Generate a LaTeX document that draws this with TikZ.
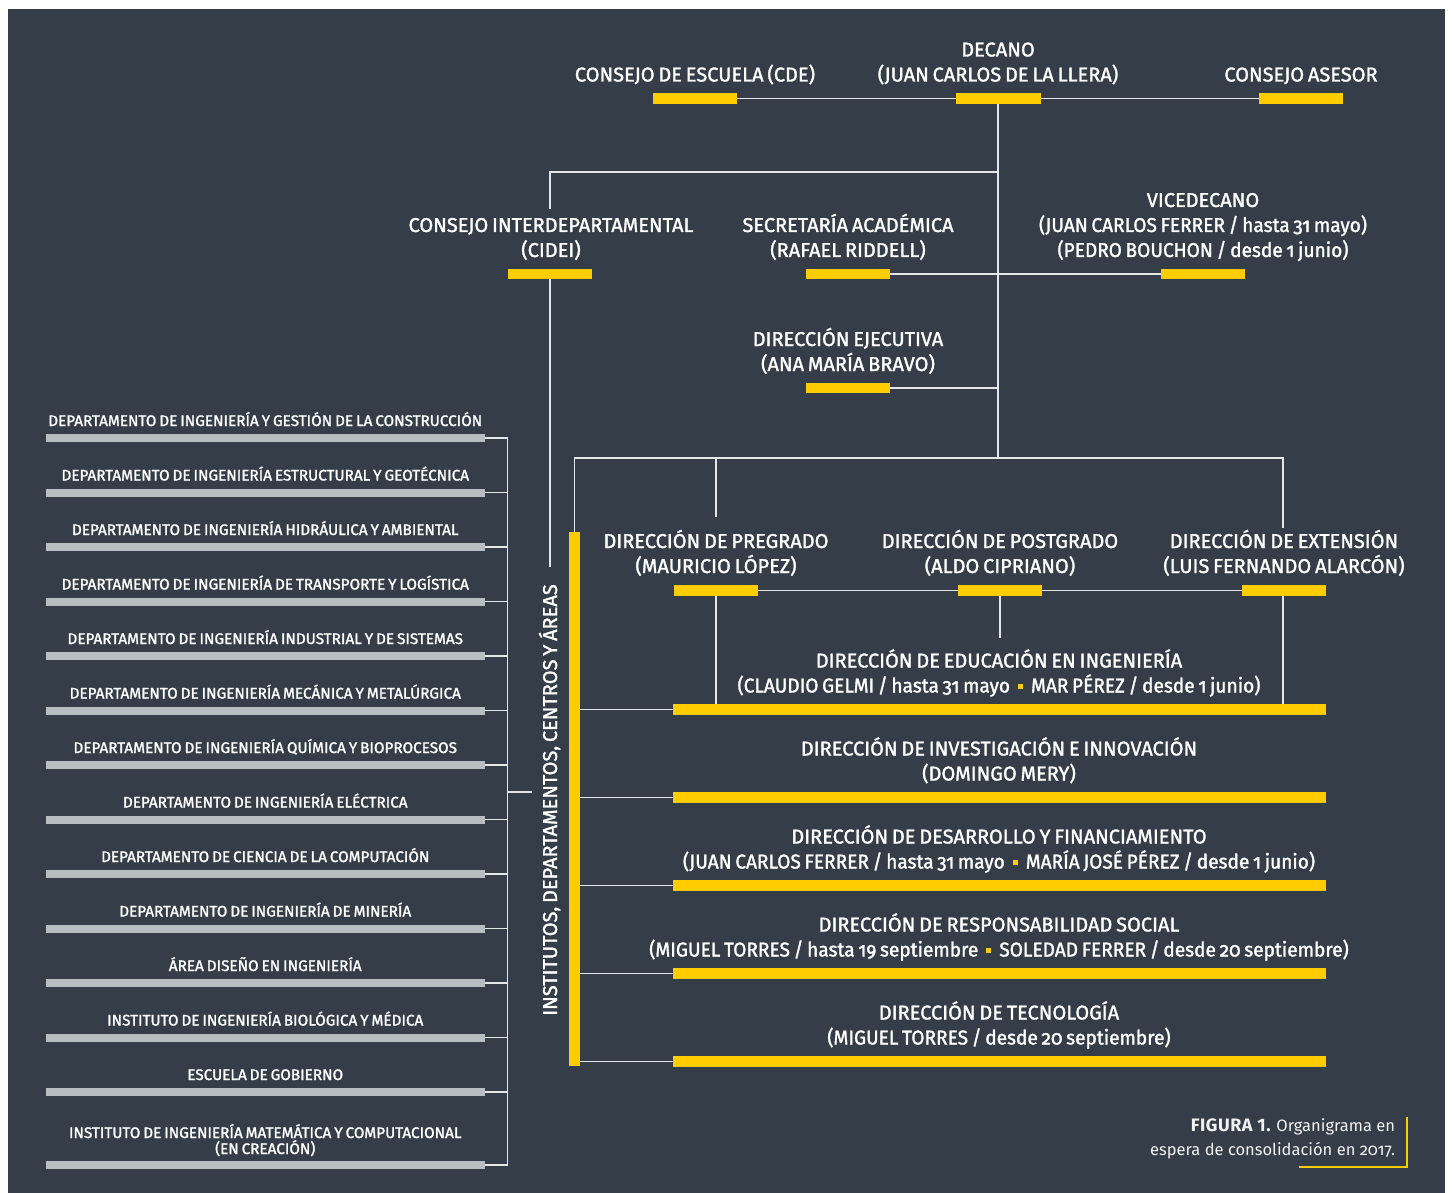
\documentclass[tikz,border=0pt]{standalone}
\usepackage{fontspec}
\setmainfont{Fira Sans}
\newfontfamily\hfont[Numbers=OldStyle,FakeBold=1.5,WordSpace=0.72]{Fira Sans}
\newfontfamily\hlfont[Numbers=OldStyle,FakeBold=1.5,WordSpace=0.72,FakeStretch=0.955]{Fira Sans}
\newfontfamily\capfont[Numbers=OldStyle]{Fira Sans}
\definecolor{bgc}{HTML}{353D48}
\definecolor{ycol}{HTML}{FFCC00}
\definecolor{gcol}{HTML}{B8BDC1}
\definecolor{lcol}{HTML}{E4E6E8}
\newcommand\ysq{\hspace{0.4em}\raisebox{3.7pt}{\textcolor{ycol}{\rule{5pt}{5pt}}}\hspace{0.4em}}
\tikzset{
  hd/.style={font=\hfont\fontsize{20}{24}\selectfont, text=white, inner sep=0pt, outer sep=0pt, anchor=base},
  hdl/.style={font=\hlfont\fontsize{20}{24}\selectfont, text=white, inner sep=0pt, outer sep=0pt, anchor=base},
  dp/.style={font=\hfont\fontsize{15.3}{18}\selectfont, text=white, inner sep=0pt, outer sep=0pt, anchor=base},
  cp/.style={font=\capfont\fontsize{16.5}{20}\selectfont, text=white!90!gray, inner sep=0pt, outer sep=0pt, anchor=base east},
  ybar/.style={fill=ycol, inner sep=0pt, outer sep=0pt, minimum width=84.5pt, minimum height=10.5pt},
  wbar/.style={fill=ycol, inner sep=0pt, outer sep=0pt, minimum width=653pt, minimum height=10.5pt},
  gbar/.style={fill=gcol, inner sep=0pt, outer sep=0pt, minimum width=438.5pt, minimum height=8pt},
  conn/.style={draw=lcol, line width=1.5pt},
}
\begin{document}
\begin{tikzpicture}[x=1pt,y=-1pt]
\fill[white] (0,0) rectangle (1452,1193);
\fill[bgc] (8,9) rectangle (1445,1193);
\useasboundingbox (0,0) rectangle (1452,1193);

% ---- top tier ----
\node[hd] (dec1) at (998,56.5) {DECANO};
\node[hd] (dec2) at (998,81.5) {(JUAN CARLOS DE LA LLERA)};
\node[ybar] (dec) at (998.5,98.5) {};
\node[hd] (cde1) at (695,81.5) {CONSEJO DE ESCUELA (CDE)};
\node[ybar] (cde) at (695,98.5) {};
\node[hd] (ase1) at (1301,81.5) {CONSEJO ASESOR};
\node[ybar] (ase) at (1301,98.5) {};

% ---- second tier ----
\node[hd] (cid1) at (551,232) {CONSEJO INTERDEPARTAMENTAL};
\node[hd] (cid2) at (551,257) {(CIDEI)};
\node[ybar] (cid) at (550,274) {};
\node[hd] (sec1) at (848,232) {SECRETARÍA ACADÉMICA};
\node[hd] (sec2) at (848,257) {(RAFAEL RIDDELL)};
\node[ybar] (sec) at (848,274) {};
\node[hd] (vic1) at (1203,207) {VICEDECANO};
\node[hdl] (vic2) at (1203,232) {(JUAN CARLOS FERRER / hasta 31 mayo)};
\node[hdl] (vic3) at (1203,257) {(PEDRO BOUCHON / desde 1 junio)};
\node[ybar] (vic) at (1203,274) {};
\node[hd] (dej1) at (848,346) {DIRECCIÓN EJECUTIVA};
\node[hd] (dej2) at (848,371) {(ANA MARÍA BRAVO)};
\node[ybar] (dej) at (848,388) {};

% ---- direcciones ----
\node[hd] (pre1) at (716,548) {DIRECCIÓN DE PREGRADO};
\node[hd] (pre2) at (716,573) {(MAURICIO LÓPEZ)};
\node[ybar] (pre) at (716,590.5) {};
\node[hd] (pos1) at (1000,548) {DIRECCIÓN DE POSTGRADO};
\node[hd] (pos2) at (1000,573) {(ALDO CIPRIANO)};
\node[ybar] (pos) at (1000,590.5) {};
\node[hd] (ext1) at (1284,548) {DIRECCIÓN DE EXTENSIÓN};
\node[hd] (ext2) at (1284,573) {(LUIS FERNANDO ALARCÓN)};
\node[ybar] (ext) at (1284,590.5) {};

% ---- wide direcciones ----
\node[hd] (w1a) at (999,667.5) {DIRECCIÓN DE EDUCACIÓN EN INGENIERÍA};
\node[hdl] (w1b) at (999,692.5) {(CLAUDIO GELMI / hasta 31 mayo\ysq MAR PÉREZ / desde 1 junio)};
\node[wbar] (w1) at (999.5,709.5) {};
\node[hd] (w2a) at (999,755.5) {DIRECCIÓN DE INVESTIGACIÓN E INNOVACIÓN};
\node[hd] (w2b) at (999,780.5) {(DOMINGO MERY)};
\node[wbar] (w2) at (999.5,797.5) {};
\node[hd] (w3a) at (999,843.5) {DIRECCIÓN DE DESARROLLO Y FINANCIAMIENTO};
\node[hdl] (w3b) at (999,868.5) {(JUAN CARLOS FERRER / hasta 31 mayo\ysq MARÍA JOSÉ PÉREZ / desde 1 junio)};
\node[wbar] (w3) at (999.5,885.5) {};
\node[hd] (w4a) at (999,931.5) {DIRECCIÓN DE RESPONSABILIDAD SOCIAL};
\node[hdl] (w4b) at (999,956.5) {(MIGUEL TORRES / hasta 19 septiembre\ysq SOLEDAD FERRER / desde 20 septiembre)};
\node[wbar] (w4) at (999.5,973.5) {};
\node[hd] (w5a) at (999,1019.5) {DIRECCIÓN DE TECNOLOGÍA};
\node[hdl] (w5b) at (999,1044.5) {(MIGUEL TORRES / desde 20 septiembre)};
\node[wbar] (w5) at (999.5,1061.5) {};

% ---- vertical yellow bar and label ----
\node[fill=ycol, inner sep=0pt, outer sep=0pt, minimum width=11pt, minimum height=534pt] (vb) at (574.5,799) {};
\node[hd, rotate=90] (inst) at (557,800) {INSTITUTOS, DEPARTAMENTOS, CENTROS Y ÁREAS};

% ---- departments ----
\foreach \i/\t in {0/{DEPARTAMENTO DE INGENIERÍA Y GESTIÓN DE LA CONSTRUCCIÓN},
                   1/{DEPARTAMENTO DE INGENIERÍA ESTRUCTURAL Y GEOTÉCNICA},
                   2/{DEPARTAMENTO DE INGENIERÍA HIDRÁULICA Y AMBIENTAL},
                   3/{DEPARTAMENTO DE INGENIERÍA DE TRANSPORTE Y LOGÍSTICA},
                   4/{DEPARTAMENTO DE INGENIERÍA INDUSTRIAL Y DE SISTEMAS},
                   5/{DEPARTAMENTO DE INGENIERÍA MECÁNICA Y METALÚRGICA},
                   6/{DEPARTAMENTO DE INGENIERÍA QUÍMICA Y BIOPROCESOS},
                   7/{DEPARTAMENTO DE INGENIERÍA ELÉCTRICA},
                   8/{DEPARTAMENTO DE CIENCIA DE LA COMPUTACIÓN},
                   9/{DEPARTAMENTO DE INGENIERÍA DE MINERÍA},
                   10/{ÁREA DISEÑO EN INGENIERÍA},
                   11/{INSTITUTO DE INGENIERÍA BIOLÓGICA Y MÉDICA},
                   12/{ESCUELA DE GOBIERNO}}{
  \node[dp] (dt\i) at (265.25,{438+54.5*\i-12}) {\t};
  \node[gbar] (g\i) at (265.25,{438+54.5*\i}) {};
}
\node[dp] (dt13a) at (265.25,1138) {INSTITUTO DE INGENIERÍA MATEMÁTICA Y COMPUTACIONAL};
\node[dp] (dt13b) at (265.25,1154) {(EN CREACIÓN)};
\node[gbar] (g13) at (265.25,1165) {};

% ---- caption ----
\node[cp] (cap1) at (1395,1131) {{\fontsize{18}{20}\selectfont\bfseries\addfontfeatures{Numbers=Lining,LetterSpace=3}FIGURA 1.} Organigrama en};
\node[cp] (cap2) at (1395,1155) {espera de consolidación en 2017.};
\coordinate (capA) at (1407,1117);
\coordinate (capB) at (1407,1167);
\coordinate (capC) at (1299,1167);
\draw[ycol, line width=1.5pt] (capA) -- (capB) -- (capC);

% ---- connectors ----
\coordinate (j1) at (998,172);
\coordinate (cidtop) at (550,209);
\coordinate (t4) at (998,458);
\coordinate (cidend) at (550,567);
\coordinate (pretop) at (716,517);
\coordinate (exttop) at (1283,528);
\coordinate (brt) at (507.5,438);
\coordinate (brb) at (507.5,1165);
\coordinate (stub) at (532,792);

\draw[conn] (cde.east) -- (dec.west);
\draw[conn] (dec.east) -- (ase.west);
\draw[conn] (dec.south -| t4) -- (t4);
\draw[conn] (j1) -| (cidtop);
\draw[conn] (sec.east) -- (vic.west);
\draw[conn] (dej.east) -- (dej.east -| t4);
\draw[conn] (cid.south) -- (cidend);
\draw[conn] (vb.north) |- (t4 -| exttop) -- (exttop);
\draw[conn] (pretop |- t4) -- (pretop);
\draw[conn] (pre.east) -- (pos.west);
\draw[conn] (pos.east) -- (ext.west);
\draw[conn] (pre.south) -- (pre.south |- w1.north);
\draw[conn] (ext.south -| exttop) -- (exttop |- w1.north);
\draw[conn] (pos.south) -- ++(0,42);
\foreach \k in {1,...,5}{
  \draw[conn] (vb.east |- w\k.west) -- (w\k.west);
}
\draw[conn] (brt) -- (brb);
\foreach \i in {0,...,13}{
  \draw[conn] (g\i.east) -- (g\i.east -| brt);
}
\draw[conn] (stub -| brt) -- (stub);
\end{tikzpicture}
\end{document}
